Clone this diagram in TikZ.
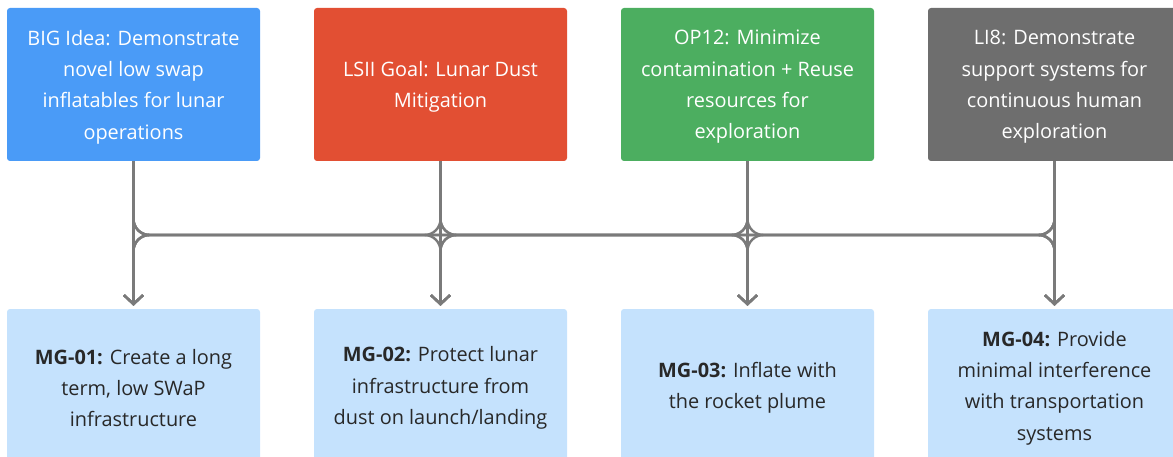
\documentclass[tikz,border=0pt]{standalone}
\usepackage{fontspec}
\setmainfont{Open Sans}
\usetikzlibrary{arrows.meta}
\definecolor{cblue}{RGB}{74,155,247}
\definecolor{cred}{RGB}{226,79,51}
\definecolor{cgreen}{RGB}{76,174,96}
\definecolor{cgray}{RGB}{110,110,110}
\definecolor{clight}{RGB}{197,226,253}
\definecolor{ctext}{RGB}{40,40,40}
\definecolor{cline}{RGB}{122,122,122}
\tikzset{
  boxshape/.style={rounded corners=3pt, minimum width=253pt, inner sep=0pt},
  topbox/.style={boxshape, minimum height=153pt},
  botbox/.style={boxshape, fill=clight, minimum height=154pt},
  toptext/.style={text=white, align=center, font=\fontsize{19.9}{31.3}\selectfont, inner sep=0pt},
  bottext/.style={text=ctext, align=center, font=\fontsize{19.9}{31.3}\selectfont, inner sep=0pt},
  conn/.style={draw=cline, line width=2.4pt, rounded corners=16pt,
    -{Straight Barb[length=9pt,width=19pt,line width=2.4pt]}, shorten >=3pt}
}
\begin{document}
\begin{tikzpicture}[x=1pt,y=-1pt]
\useasboundingbox (0,0) rectangle (1173,457);
\clip (0,0) rectangle (1173,457);
\node[topbox, fill=cblue] (t1) at (133.5,84.5) {};
\node[topbox, fill=cred] (t2) at (440.5,84.5) {};
\node[topbox, fill=cgreen] (t3) at (747.5,84.5) {};
\node[topbox, fill=cgray] (t4) at (1054.5,84.5) {};
\node[botbox] (b1) at (133.5,386) {};
\node[botbox] (b2) at (440.5,386) {};
\node[botbox] (b3) at (747.5,386) {};
\node[botbox] (b4) at (1054.5,386) {};
\node[toptext] (t1l) at (133.5,87) {BIG Idea: Demonstrate\\novel low swap\\inflatables for lunar\\operations};
\node[toptext] (t2l) at (440.5,87) {LSII Goal: Lunar Dust\\Mitigation};
\node[toptext] (t3l) at (747.5,87) {OP12: Minimize\\contamination + Reuse\\resources for\\exploration};
\node[toptext] (t4l) at (1054.5,87) {LI8: Demonstrate\\support systems for\\continuous human\\exploration};
\node[bottext] (b1l) at (133.5,388) {\textbf{MG-01:} Create a long\\term, low SWaP\\infrastructure};
\node[bottext] (b2l) at (440.5,388) {\textbf{MG-02:} Protect lunar\\infrastructure from\\dust on launch/landing};
\node[bottext] (b3l) at (747.5,388) {\textbf{MG-03:} Inflate with\\the rocket plume};
\node[bottext] (b4l) at (1054.5,388) {\textbf{MG-04:} Provide\\minimal interference\\with transportation\\systems};
\coordinate (bus) at (0,235);
\foreach \i in {1,...,4}{
  \foreach \j in {1,...,4}{
    \draw[conn] (t\i.south) -- (t\i.south |- bus) -- (b\j.north |- bus) -- (b\j.north);
  }
}
\end{tikzpicture}
\end{document}
